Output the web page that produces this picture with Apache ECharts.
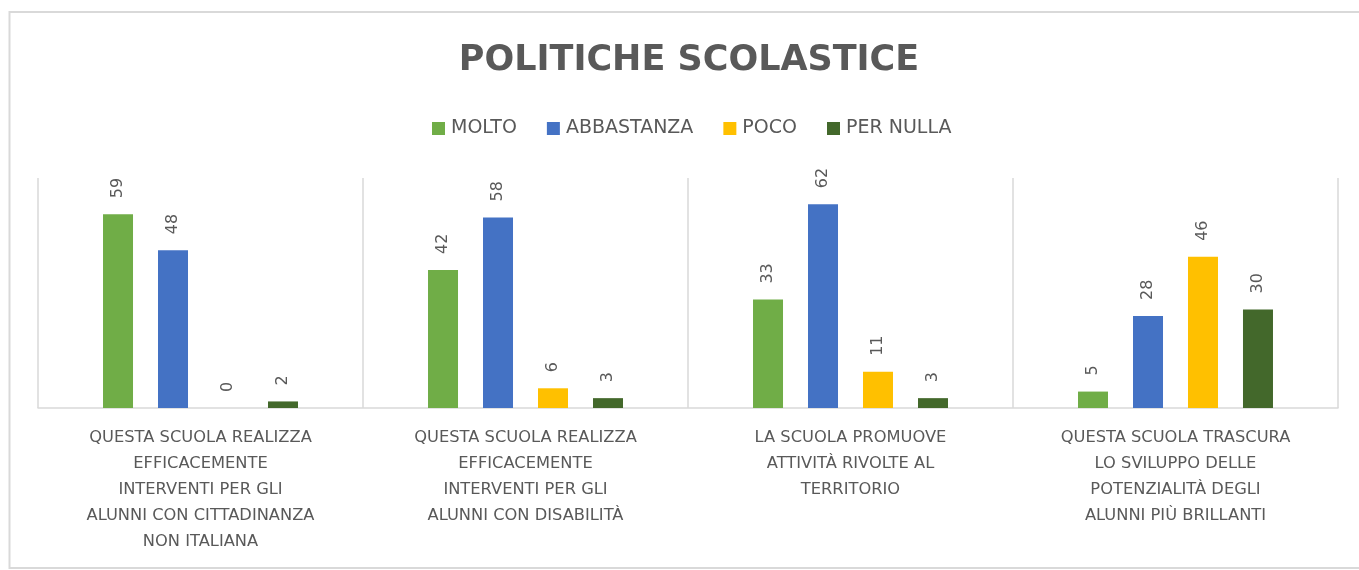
<!DOCTYPE html>
<html>
<head>
<meta charset="utf-8">
<script src="https://cdn.jsdelivr.net/npm/echarts@6/dist/echarts.min.js"></script>
<style>
  html, body { margin: 0; padding: 0; background: #fff; }
  #chart { width: 1359px; height: 570px; }
</style>
</head>
<body>
<div id="chart"></div>
<script>
const titleText = "POLITICHE SCOLASTICE";
const categories = [
  "QUESTA SCUOLA REALIZZA\nEFFICACEMENTE\nINTERVENTI PER GLI\nALUNNI CON CITTADINANZA\nNON ITALIANA",
  "QUESTA SCUOLA REALIZZA\nEFFICACEMENTE\nINTERVENTI PER GLI\nALUNNI CON DISABILITÀ",
  "LA SCUOLA PROMUOVE\nATTIVITÀ RIVOLTE AL\nTERRITORIO",
  "QUESTA SCUOLA TRASCURA\nLO SVILUPPO DELLE\nPOTENZIALITÀ DEGLI\nALUNNI PIÙ BRILLANTI"
];
const seriesNames = ["MOLTO", "ABBASTANZA", "POCO", "PER NULLA"];
const molto = [59, 42, 33, 5];
const abbastanza = [48, 58, 62, 28];
const poco = [0, 6, 11, 46];
const perNulla = [2, 3, 3, 30];
const colors = ["#70AD47", "#4472C4", "#FFC000", "#43682B"];

const seriesData = [molto, abbastanza, poco, perNulla];
const textColor = "#595959";
const font = "DejaVu Sans";

const chart = echarts.init(document.getElementById("chart"), null, { renderer: "canvas" });
chart.setOption({
  animation: false,
  backgroundColor: "#ffffff",
  color: colors,
  graphic: [{
    type: "rect",
    silent: true,
    shape: { x: 9.5, y: 12, width: 1370, height: 556 },
    style: { fill: "none", stroke: "#d9d9d9", lineWidth: 2 },
    z: -10
  }],
  title: {
    text: titleText,
    left: 684,
    textAlign: "center",
    top: 38,
    textStyle: { fontFamily: font, fontSize: 35, fontWeight: "bold", color: textColor }
  },
  legend: {
    data: seriesNames,
    left: 427,
    top: 114,
    itemWidth: 13,
    itemHeight: 13,
    itemGap: 30,
    icon: "rect",
    textStyle: { fontFamily: font, fontSize: 19, color: textColor, padding: [0, 0, 0, 1] }
  },
  grid: { left: 38, right: 21, top: 178, bottom: 162, containLabel: false },
  xAxis: {
    type: "category",
    data: categories,
    axisTick: { show: false },
    axisLine: { lineStyle: { color: "#d9d9d9", width: 1.5 } },
    splitLine: { show: true, lineStyle: { color: "#d9d9d9", width: 1.5 } },
    axisLabel: {
      interval: 0,
      margin: 17,
      fontFamily: font,
      fontSize: 16.3,
      lineHeight: 26,
      color: textColor
    }
  },
  yAxis: {
    type: "value",
    min: 0,
    max: 70,
    show: false,
    splitLine: { show: false }
  },
  series: seriesNames.map((name, i) => ({
    name: name,
    type: "bar",
    data: seriesData[i],
    barWidth: 30,
    barGap: "83.3%",
    itemStyle: { color: colors[i] },
    label: {
      show: true,
      position: "top",
      rotate: 90,
      align: "left",
      verticalAlign: "middle",
      distance: 16,
      fontFamily: font,
      fontSize: 16,
      color: textColor
    }
  }))
});
</script>
</body>
</html>
